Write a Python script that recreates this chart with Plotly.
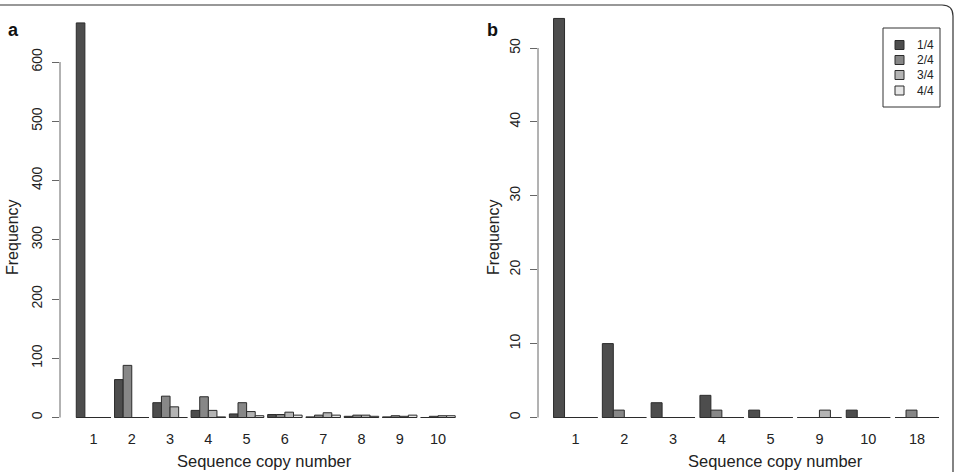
import plotly.graph_objects as go

# ---------------- data ----------------
series_names = ["1/4", "2/4", "3/4", "4/4"]
series_colors = ["#4D4D4D", "#878787", "#B4B4B4", "#E6E6E6"]

a_categories = ["1", "2", "3", "4", "5", "6", "7", "8", "9", "10"]
a_q1 = [666, 64, 25, 12, 6, 5, 1, 2, 1, 0]
a_q2 = [0, 88, 36, 35, 25, 5, 4, 4, 3, 2]
a_q3 = [0, 0, 18, 12, 10, 9, 8, 4, 2, 3]
a_q4 = [0, 0, 0, 1, 3, 4, 4, 2, 4, 3]

b_categories = ["1", "2", "3", "4", "5", "9", "10", "18"]
b_q1 = [54, 10, 2, 3, 1, 0, 1, 0]
b_q2 = [0, 1, 0, 1, 0, 0, 0, 1]
b_q3 = [0, 0, 0, 0, 0, 1, 0, 0]
b_q4 = [0, 0, 0, 0, 0, 0, 0, 0]

a_yticks = [0, 100, 200, 300, 400, 500, 600]
b_yticks = [0, 10, 20, 30, 40, 50]

# ---------------- layout helpers ----------------
W, H = 955, 472
def px_x(x):
    return x / W
def px_y(y):
    return 1 - y / H

BORDER = "#2b2b2b"
AXCOL = "#666666"
TXT = "#222222"
FONT = "Liberation Sans, Arial, sans-serif"
BARGAP = 0.1

fig = go.Figure()

panels = [
    ("x", "y", a_categories, [a_q1, a_q2, a_q3, a_q4]),
    ("x2", "y2", b_categories, [b_q1, b_q2, b_q3, b_q4]),
]
for xa, ya, cats, vals in panels:
    idx = list(range(len(cats)))
    for name, col, v in zip(series_names, series_colors, vals):
        fig.add_trace(go.Bar(
            x=idx, y=v, name=name, xaxis=xa, yaxis=ya,
            marker=dict(color=col, line=dict(color=BORDER, width=1)),
            showlegend=False, hoverinfo="skip",
        ))

shapes = []
# baselines under each group (zero-height bars still show their outline in the original)
for xa, ya, cats, vals in panels:
    half = (1 - BARGAP) / 2
    for i in range(len(cats)):
        shapes.append(dict(type="line", xref=xa, yref=ya, x0=i - half, x1=i + half,
                           y0=0, y1=0, line=dict(color=BORDER, width=1), layer="below"))

# y-axis lines spanning the tick range only (R style)
shapes.append(dict(type="line", xref="paper", yref="y", x0=px_x(60), x1=px_x(60),
                   y0=a_yticks[0], y1=a_yticks[-1], line=dict(color=AXCOL, width=1)))
shapes.append(dict(type="line", xref="paper", yref="y2", x0=px_x(538), x1=px_x(538),
                   y0=b_yticks[0], y1=b_yticks[-1], line=dict(color=AXCOL, width=1)))

# outer rounded frame
r = 11
frame_path = (f"M {px_x(-5)},{px_y(480)} L {px_x(-5)},{px_y(5)} "
              f"L {px_x(953 - r)},{px_y(5)} Q {px_x(953)},{px_y(5)} {px_x(953)},{px_y(5 + r)} "
              f"L {px_x(953)},{px_y(480)}")
shapes.append(dict(type="path", xref="paper", yref="paper", path=frame_path,
                   line=dict(color="#333333", width=1.2)))

# manual legend box (panel b)
shapes.append(dict(type="rect", xref="paper", yref="paper",
                   x0=px_x(883), x1=px_x(940), y0=px_y(107), y1=px_y(28),
                   line=dict(color="#333333", width=1), fillcolor="white"))
annotations = []
row_y = [45, 60, 75, 90.5]
for name, col, yy in zip(series_names, series_colors, row_y):
    shapes.append(dict(type="rect", xref="paper", yref="paper",
                       x0=px_x(895), x1=px_x(904), y0=px_y(yy + 4.5), y1=px_y(yy - 4.5),
                       line=dict(color=BORDER, width=1), fillcolor=col))
    annotations.append(dict(text=name, xref="paper", yref="paper", x=px_x(915), y=px_y(yy),
                            xanchor="left", yanchor="middle", showarrow=False,
                            font=dict(size=12, color=TXT, family=FONT)))

# panel letters
annotations.append(dict(text="<b>a</b>", xref="paper", yref="paper", x=px_x(13), y=px_y(30),
                        xanchor="center", yanchor="middle", showarrow=False,
                        font=dict(size=18, color="#111111", family=FONT)))
annotations.append(dict(text="<b>b</b>", xref="paper", yref="paper", x=px_x(492), y=px_y(30),
                        xanchor="center", yanchor="middle", showarrow=False,
                        font=dict(size=18, color="#111111", family=FONT)))
# axis titles
for xc, yc in [(12, 237), (493, 237)]:
    annotations.append(dict(text="Frequency", xref="paper", yref="paper", x=px_x(xc), y=px_y(yc),
                            xanchor="center", yanchor="middle", textangle=-90, showarrow=False,
                            font=dict(size=16, color=TXT, family=FONT)))
for xc in [264, 775]:
    annotations.append(dict(text="Sequence copy number", xref="paper", yref="paper",
                            x=px_x(xc), y=px_y(461), xanchor="center", yanchor="middle",
                            showarrow=False, font=dict(size=16.5, color=TXT, family=FONT)))

xcommon = dict(showgrid=False, zeroline=False, showline=False, ticks="outside", ticklen=4,
               tickcolor="rgba(0,0,0,0)", tickfont=dict(size=14.5, color=TXT, family=FONT),
               fixedrange=True)
ycommon = dict(showgrid=False, zeroline=False, showline=False, ticks="outside", ticklen=7,
               tickcolor=AXCOL, tickangle=-90, ticklabelstandoff=4,
               tickfont=dict(size=14, color=TXT, family=FONT),
               fixedrange=True)

fig.update_layout(
    width=W, height=H,
    margin=dict(l=0, r=0, t=0, b=0),
    paper_bgcolor="white", plot_bgcolor="white",
    barmode="group", bargap=BARGAP, bargroupgap=0,
    showlegend=False,
    xaxis=dict(domain=[px_x(60), px_x(472)], range=[-0.875, 9.888], anchor="y",
               tickvals=list(range(len(a_categories))), ticktext=a_categories, **xcommon),
    yaxis=dict(domain=[px_y(422), px_y(18)], range=[-7.6, 674.3], anchor="x",
               tickvals=a_yticks, **ycommon),
    xaxis2=dict(domain=[px_x(538), px_x(945)], range=[-0.769, 7.574], anchor="y2",
                tickvals=list(range(len(b_categories))), ticktext=b_categories, **xcommon),
    yaxis2=dict(domain=[px_y(422), px_y(16)], range=[-0.609, 54.33], anchor="x2",
                tickvals=b_yticks, **ycommon),
    shapes=shapes,
    annotations=annotations,
)

fig.write_html("out.html")
